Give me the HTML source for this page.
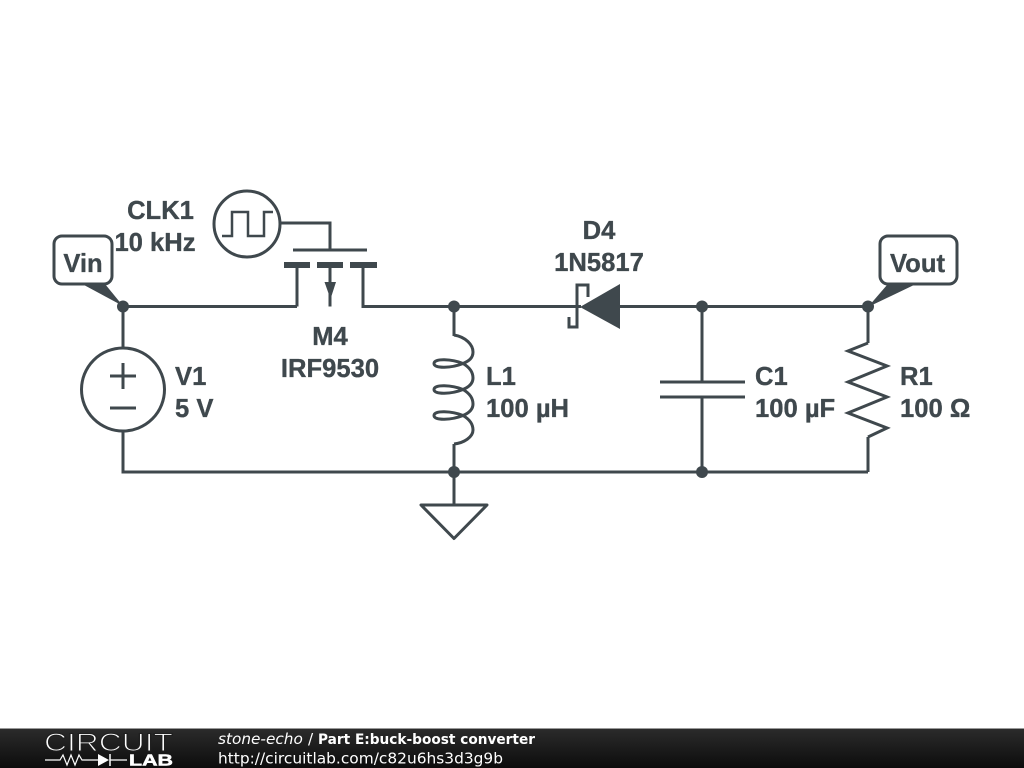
<!DOCTYPE html>
<html><head><meta charset="utf-8"><style>
html,body{margin:0;padding:0;background:#fff;width:1024px;height:768px;overflow:hidden}
svg{display:block}
.t{font-family:"Liberation Sans",Arial,sans-serif;font-weight:bold;font-size:25.6px;fill:#3f484d;stroke:#3f484d;stroke-width:.35px}
.m{text-anchor:middle}
.f{font-family:"DejaVu Sans",sans-serif;font-size:15.3px;fill:#fff}
</style></head><body>
<svg width="1024" height="768" viewBox="0 0 1024 768" xmlns="http://www.w3.org/2000/svg">
<defs><linearGradient id="g" x1="0" y1="0" x2="0" y2="1"><stop offset="0" stop-color="#2b2b2b"/><stop offset="1" stop-color="#0c0c0c"/></linearGradient></defs>
<rect width="1024" height="768" fill="#fff"/>
<g fill="none" stroke="#3f484d" stroke-width="3" stroke-linejoin="miter">
<path d="M123 306.5H297M330 306.5V284M297 306.5V265M330 265V284M363 265V306.5H581M620 306.5H868M123 306.5V348M123 430V472H868M454 306.5V336M454 444V504M702 306.5V382M702 397V472M868 306.5V343M868 437V472"/>
<circle cx="123" cy="389.500" r="41.500"/>
<path d="M110 376H136M123 363V389M110 408H136"/>
<circle cx="247" cy="224" r="33"/>
<path d="M281 223H330V250M293 250H367" />
<path d="M222 236H232V212H248V236H264V212H273" stroke-width="2.500"/>
<path d="M660 382H745M660 397H745"/>
<path d="M868 343L848 351L887 366L848 382L887 397L848 413L887 428L868 437"/>
<path d="M454 335C466 337 473 345 473 352C473 358 469 361 463 363.500C452 359 434 358 434 363.500C434 369 452 368 463 363.500C469 367 473 372 473 378C473 383 469 387 463 389.500C452 385 434 384 434 389.500C434 395 452 394 463 389.500C469 393 473 398 473 404C473 409 469 413 463 415.500C452 411 434 410 434 415.500C434 421 452 420 463 415.500C469 419 473 424 473 430C473 437 464 443 454 444"/>
<path d="M421 505H487L454 538.500Z" stroke-linejoin="round"/>
<path d="M588 297V285H577V327H569V317"/>
<rect x="54" y="236" width="58" height="48" rx="8"/>
<rect x="880" y="236" width="77" height="48" rx="8"/>
</g>
<g fill="#3f484d">
<rect x="284" y="262" width="26" height="6"/>
<rect x="317" y="262" width="26" height="6"/>
<rect x="350" y="262" width="27" height="6"/>
<path d="M324.500 282H336L330.500 299Z"/>
<path d="M580 307L620 284V329Z"/>
<path d="M84 285L105 284L123 306Z"/>
<path d="M887 285L914 285L868 307Z"/>
<circle cx="123" cy="306.500" r="6"/>
<circle cx="454" cy="306.500" r="6"/>
<circle cx="702" cy="306.500" r="6"/>
<circle cx="868" cy="306.500" r="6"/>
<circle cx="454" cy="472" r="6"/>
<circle cx="702" cy="472" r="6"/>
</g>
<text class="t m" x="160.500" y="219">CLK1</text>
<text class="t m" x="155" y="251">10 kHz</text>
<text class="t m" x="83" y="272">Vin</text>
<text class="t m" x="917.500" y="272">Vout</text>
<text class="t m" x="330" y="345">M4</text>
<text class="t m" x="330" y="377">IRF9530</text>
<text class="t" x="175" y="385">V1</text>
<text class="t" x="175" y="417">5 V</text>
<text class="t m" x="599" y="239">D4</text>
<text class="t m" x="599" y="271">1N5817</text>
<text class="t" x="486" y="385">L1</text>
<text class="t" x="486" y="417">100 µH</text>
<text class="t" x="755" y="385">C1</text>
<text class="t" x="755" y="417">100 µF</text>
<text class="t" x="900" y="385">R1</text>
<text class="t" x="900" y="417">100 Ω</text>
<rect x="0" y="729" width="1024" height="39" fill="url(#g)"/>
<rect x="0" y="728" width="1024" height="1" fill="#999"/>
<text x="44" y="751" textLength="129" lengthAdjust="spacingAndGlyphs" style="font-family:'Liberation Sans',sans-serif;font-size:25px" fill="#fff" stroke="#1f1f1f" stroke-width="1.100">CIRCUIT</text>
<path d="M45 760H60L63 755L67 765L71 755L75 765L79 755L82 760H98M110 760H127" fill="none" stroke="#fff" stroke-width="1.200"/>
<path d="M98 754L109 760L98 766Z" fill="#fff"/>
<path d="M110 754V766" stroke="#fff" stroke-width="1.500"/>
<text x="129" y="765.500" textLength="44" lengthAdjust="spacingAndGlyphs" style="font-family:'Liberation Sans',sans-serif;font-weight:bold;font-size:15.500px" fill="#fff" stroke="#fff" stroke-width=".5">LAB</text>
<text class="f" x="218" y="744" font-style="italic">stone-echo</text>
<text class="f" x="308" y="744">/</text>
<text class="f" x="318" y="744" font-weight="bold" textLength="217" lengthAdjust="spacingAndGlyphs" style="font-size:14.500px">Part E:buck-boost converter</text>
<text class="f" x="218" y="763.500" textLength="285" lengthAdjust="spacingAndGlyphs">http://circuitlab.com/c82u6hs3d3g9b</text>
</svg>
</body></html>
